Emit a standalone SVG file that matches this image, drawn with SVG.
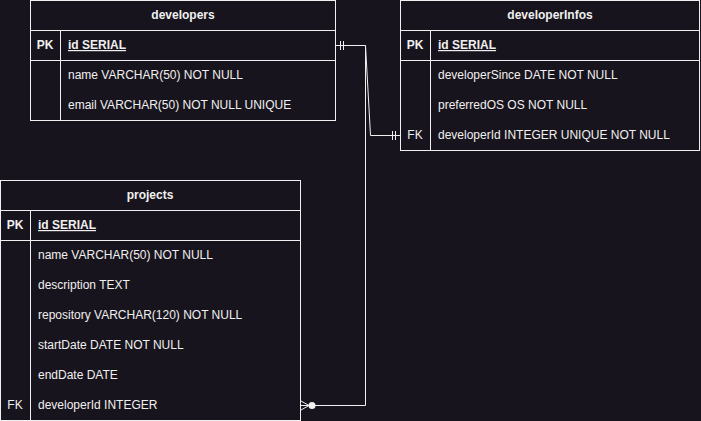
<svg xmlns="http://www.w3.org/2000/svg" width="701" height="421" viewBox="0 0 701 421">
<style>
.bg{fill:#18141d}
.box{fill:#18141d;stroke:#f0f0f0;stroke-width:1}
.ln{stroke:#f0f0f0;stroke-width:1;fill:none}
text{font-family:"Liberation Sans",Arial,sans-serif;font-size:12px;fill:#f0f0f0}
.h{font-weight:bold;text-anchor:middle}
.k{text-anchor:middle}
.pk{font-weight:bold;text-anchor:middle}
.id{font-weight:bold;text-decoration:underline}
</style>
<rect class="bg" x="0" y="0" width="701" height="421"/>
<g id="developers">
<rect class="box" x="30.5" y="0.5" width="305" height="120"/>
<line class="ln" x1="30.5" y1="30.5" x2="335.5" y2="30.5"/>
<line class="ln" x1="30.5" y1="60.5" x2="335.5" y2="60.5"/>
<line class="ln" x1="60.5" y1="30.5" x2="60.5" y2="120.5"/>
<text class="h" x="183" y="19">developers</text>
<text class="pk" x="45" y="49">PK</text>
<text class="id" x="68" y="49">id SERIAL</text>
<text x="68" y="79">name VARCHAR(50) NOT NULL</text>
<text x="68" y="109">email VARCHAR(50) NOT NULL UNIQUE</text>
</g>
<g id="developerInfos">
<rect class="box" x="400.5" y="0.5" width="299" height="150"/>
<line class="ln" x1="400.5" y1="30.5" x2="699.5" y2="30.5"/>
<line class="ln" x1="400.5" y1="60.5" x2="699.5" y2="60.5"/>
<line class="ln" x1="430.5" y1="30.5" x2="430.5" y2="150.5"/>
<text class="h" x="550" y="19">developerInfos</text>
<text class="pk" x="415" y="49">PK</text>
<text class="id" x="438" y="49">id SERIAL</text>
<text x="438" y="79">developerSince DATE NOT NULL</text>
<text x="438" y="109">preferredOS OS NOT NULL</text>
<text class="k" x="415" y="139">FK</text>
<text x="438" y="139">developerId INTEGER UNIQUE NOT NULL</text>
</g>
<g id="projects">
<rect class="box" x="0.5" y="180.5" width="300" height="240"/>
<line class="ln" x1="0.5" y1="210.5" x2="300.5" y2="210.5"/>
<line class="ln" x1="0.5" y1="240.5" x2="300.5" y2="240.5"/>
<line class="ln" x1="30.5" y1="210.5" x2="30.5" y2="420.5"/>
<text class="h" x="150" y="199">projects</text>
<text class="pk" x="15" y="229">PK</text>
<text class="id" x="38" y="229">id SERIAL</text>
<text x="38" y="259">name VARCHAR(50) NOT NULL</text>
<text x="38" y="289">description TEXT</text>
<text x="38" y="319">repository VARCHAR(120) NOT NULL</text>
<text x="38" y="349">startDate DATE NOT NULL</text>
<text x="38" y="379">endDate DATE</text>
<text class="k" x="15" y="409">FK</text>
<text x="38" y="409">developerId INTEGER</text>
</g>
<g id="connectors">
<polyline class="ln" points="335.5,45.5 365.5,45.5 370.5,135.5 400.5,135.5"/>
<line class="ln" x1="340.5" y1="41" x2="340.5" y2="50"/>
<line class="ln" x1="343.5" y1="41" x2="343.5" y2="50"/>
<line class="ln" x1="392.5" y1="131" x2="392.5" y2="140"/>
<line class="ln" x1="395.5" y1="131" x2="395.5" y2="140"/>
<polyline class="ln" points="365.5,45.5 365.5,405.5 312,405.5"/>
<circle cx="312" cy="405.5" r="3.5" fill="#f0f0f0"/>
<polyline class="ln" points="301,401 309,405.5 301,410"/>
<line class="ln" x1="300.5" y1="405.5" x2="309" y2="405.5"/>
</g>
</svg>
